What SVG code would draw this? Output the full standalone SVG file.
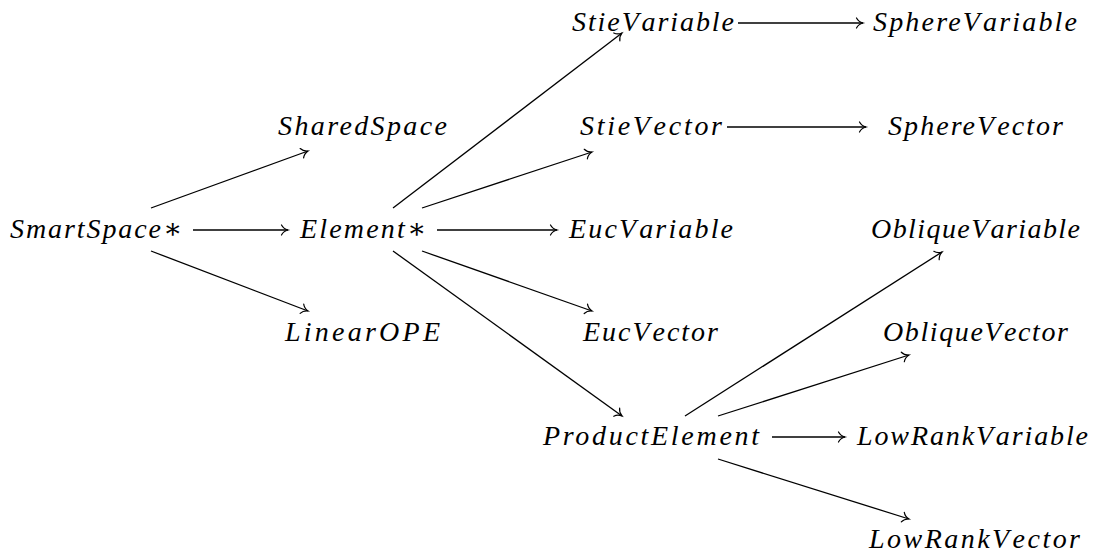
<svg xmlns="http://www.w3.org/2000/svg" width="1102" height="554" viewBox="0 0 1102 554">
  <style>
    text { font-family: 'Liberation Serif', 'DejaVu Serif', serif; font-style: italic; font-size: 28px; fill: #000; }
    .op { font-style: normal; font-size: 28px; }
    .edge { fill: none; stroke: #000; stroke-width: 1.3; marker-end: url(#to); }
  </style>
  <defs>
    <!-- open, curved arrow tip -->
    <marker id="to" markerUnits="userSpaceOnUse" markerWidth="14" markerHeight="14" refX="0" refY="0" viewBox="-8 -7 10 14" orient="auto" overflow="visible">
      <path d="M-6.5,-5 C-5,-2 -1.8,-0.5 0,0 C-1.8,0.5 -5,2 -6.5,5" fill="none" stroke="#000" stroke-width="1.2" stroke-linecap="round"/>
    </marker>
  </defs>
  <rect width="1102" height="554" fill="#fff"/>

  <!-- connectors -->
  <g id="edges">
    <line class="edge" x1="193" y1="230" x2="288" y2="230"/>
    <line class="edge" x1="151" y1="208" x2="308" y2="151"/>
    <line class="edge" x1="151" y1="251" x2="308" y2="311"/>
    <line class="edge" x1="393" y1="208" x2="622" y2="33"/>
    <line class="edge" x1="422" y1="208" x2="592" y2="152"/>
    <line class="edge" x1="437" y1="230" x2="557" y2="230"/>
    <line class="edge" x1="422" y1="251" x2="592" y2="311"/>
    <line class="edge" x1="393" y1="251" x2="622" y2="416"/>
    <line class="edge" x1="738" y1="23" x2="863" y2="23"/>
    <line class="edge" x1="727" y1="127" x2="866" y2="127"/>
    <line class="edge" x1="685" y1="416" x2="942" y2="252"/>
    <line class="edge" x1="718" y1="416" x2="909" y2="355"/>
    <line class="edge" x1="772" y1="437" x2="845" y2="437"/>
    <line class="edge" x1="718" y1="459" x2="909" y2="519"/>
  </g>

  <!-- nodes -->
  <g id="SmartSpace"><text x="10" y="238" textLength="172" lengthAdjust="spacing">SmartSpace<tspan class="op">∗</tspan></text></g>
  <g id="Element"><text x="300" y="238" textLength="126" lengthAdjust="spacing">Element<tspan class="op">∗</tspan></text></g>
  <g id="SharedSpace"><text x="278" y="135" textLength="169" lengthAdjust="spacing">SharedSpace</text></g>
  <g id="LinearOPE"><text x="285" y="341" textLength="155" lengthAdjust="spacing">LinearOPE</text></g>
  <g id="StieVariable"><text x="572" y="31" textLength="162" lengthAdjust="spacing">StieV<tspan dx="4">ariable</tspan></text></g>
  <g id="StieVector"><text x="580" y="135" textLength="142" lengthAdjust="spacing">StieV<tspan dx="4">ector</tspan></text></g>
  <g id="EucVariable"><text x="569" y="238" textLength="164" lengthAdjust="spacing">EucV<tspan dx="4">ariable</tspan></text></g>
  <g id="EucVector"><text x="583" y="341" textLength="135" lengthAdjust="spacing">EucV<tspan dx="4">ector</tspan></text></g>
  <g id="ProductElement"><text x="543" y="445" textLength="216" lengthAdjust="spacing">ProductElement</text></g>
  <g id="SphereVariable"><text x="873" y="31" textLength="204" lengthAdjust="spacing">SphereV<tspan dx="4">ariable</tspan></text></g>
  <g id="SphereVector"><text x="888" y="135" textLength="175" lengthAdjust="spacing">SphereV<tspan dx="4">ector</tspan></text></g>
  <g id="ObliqueVariable"><text x="871" y="238" textLength="209" lengthAdjust="spacing">ObliqueV<tspan dx="4">ariable</tspan></text></g>
  <g id="ObliqueVector"><text x="883" y="341" textLength="185" lengthAdjust="spacing">ObliqueV<tspan dx="4">ector</tspan></text></g>
  <g id="LowRankVariable"><text x="857" y="445" textLength="231" lengthAdjust="spacing">LowRankV<tspan dx="4">ariable</tspan></text></g>
  <g id="LowRankVector"><text x="869" y="548" textLength="211" lengthAdjust="spacing">LowRankV<tspan dx="4">ector</tspan></text></g>
</svg>
